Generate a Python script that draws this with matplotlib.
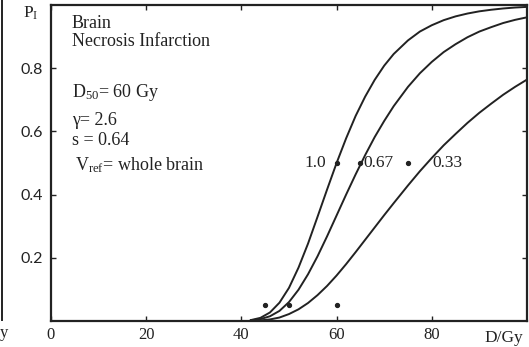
import matplotlib.pyplot as plt
from matplotlib.lines import Line2D

# dose (Gy) and complication probability for each relative volume
dose = [42, 44, 46, 48, 50, 52, 54, 56, 58, 60, 62, 64, 66, 68, 70, 72, 75,
        77.5, 80, 82.5, 85, 87.5, 90, 92.5, 95, 97.5, 100]
p_v100 = [0.003, 0.010, 0.027, 0.058, 0.105, 0.169, 0.245, 0.330, 0.416, 0.500, 0.578, 0.649,
          0.710, 0.763, 0.808, 0.845, 0.888, 0.916, 0.936, 0.952, 0.964, 0.973, 0.980, 0.985,
          0.989, 0.992, 0.994]
p_v67 = [0.002, 0.006, 0.015, 0.032, 0.060, 0.099, 0.148, 0.205, 0.268, 0.334, 0.400, 0.464,
         0.525, 0.582, 0.633, 0.680, 0.741, 0.784, 0.820, 0.851, 0.876, 0.898, 0.916, 0.930,
         0.943, 0.953, 0.961]
p_v33 = [0.001, 0.002, 0.005, 0.011, 0.022, 0.037, 0.057, 0.082, 0.111, 0.144, 0.180, 0.218,
         0.257, 0.296, 0.335, 0.373, 0.429, 0.474, 0.516, 0.556, 0.592, 0.627, 0.659, 0.688,
         0.716, 0.741, 0.764]

# clinical tolerance doses (TD5 and TD50)
td5 = [45, 50, 60]
td50 = [60, 65, 75]
vol_labels = ["1.0", "0.67", "0.33"]

ink = "#222222"
plt.rcParams['font.family'] = ['Liberation Serif', 'DejaVu Serif']
plt.rcParams['mathtext.fontset'] = 'custom'
plt.rcParams['mathtext.rm'] = 'Liberation Serif'
plt.rcParams['mathtext.it'] = 'Liberation Serif:italic'

fig = plt.figure(figsize=(5.29, 3.47), dpi=100)
ax = fig.add_axes([0.0964, 0.0749, 0.8998, 0.9107])

for p in (p_v100, p_v67, p_v33):
    ax.plot(dose, p, color=ink, lw=1.4)

ax.plot(td5, [0.05] * len(td5), 'o', color=ink, ms=2.8)
ax.plot(td50, [0.5] * len(td50), 'o', color=ink, ms=2.8)

ax.text(57.7, 0.5, vol_labels[0], ha='right', va='center', fontsize=12.5, color=ink)
ax.text(65.6, 0.5, vol_labels[1], ha='left', va='center', fontsize=12.5, color=ink)
ax.text(80.2, 0.5, vol_labels[2], ha='left', va='center', fontsize=12.5, color=ink)

ax.set_xlim(0, 100)
ax.set_ylim(0, 1)
ax.set_xticks([0, 20, 40, 60, 80])
ax.set_xticklabels(["0", "20", "40", "60", "80"])
ax.set_yticks([0.2, 0.4, 0.6, 0.8])
ax.set_yticklabels(["0.2", "0.4", "0.6", "0.8"], family=['Lato', 'DejaVu Sans'])
ax.tick_params(direction='in', length=3.5, width=1, top=True, right=True,
               labelsize=12, colors=ink, pad=4)
ax.tick_params(axis='y', labelsize=11.5, pad=6)
for sp in ax.spines.values():
    sp.set_linewidth(1.6)
    sp.set_color(ink)

ax.text(95.2, -0.03, "D/Gy", ha='center', va='top', fontsize=12.5, color=ink)
ax.text(-2.7, 0.975, r"P$_{\mathrm{I}}$", ha='right', va='center', fontsize=12.5, color=ink)

# model description
fs = 13
ax.text(4.4, 0.942, "Brain", va='center', fontsize=fs, color=ink)
ax.text(4.4, 0.883, "Necrosis Infarction", va='center', fontsize=fs, color=ink)
ax.text(4.4, 0.724, r"D$_{50}$= 60 Gy", va='center', fontsize=fs, color=ink)
ax.text(4.4, 0.635, "γ= 2.6", va='center', fontsize=fs, color=ink)
ax.text(4.4, 0.572, "s = 0.64", va='center', fontsize=fs, color=ink)
ax.text(5.0, 0.493, r"V$_{\mathrm{ref}}$= whole brain", va='center', fontsize=fs, color=ink)

# edge of the neighbouring panel
fig.add_artist(Line2D([2 / 529, 2 / 529], [27 / 347, 1.0], color=ink, lw=1.4))
fig.text(0.0, 14 / 347, "y", fontsize=12, color=ink, va='center')

fig.savefig("out.png", dpi=100)
